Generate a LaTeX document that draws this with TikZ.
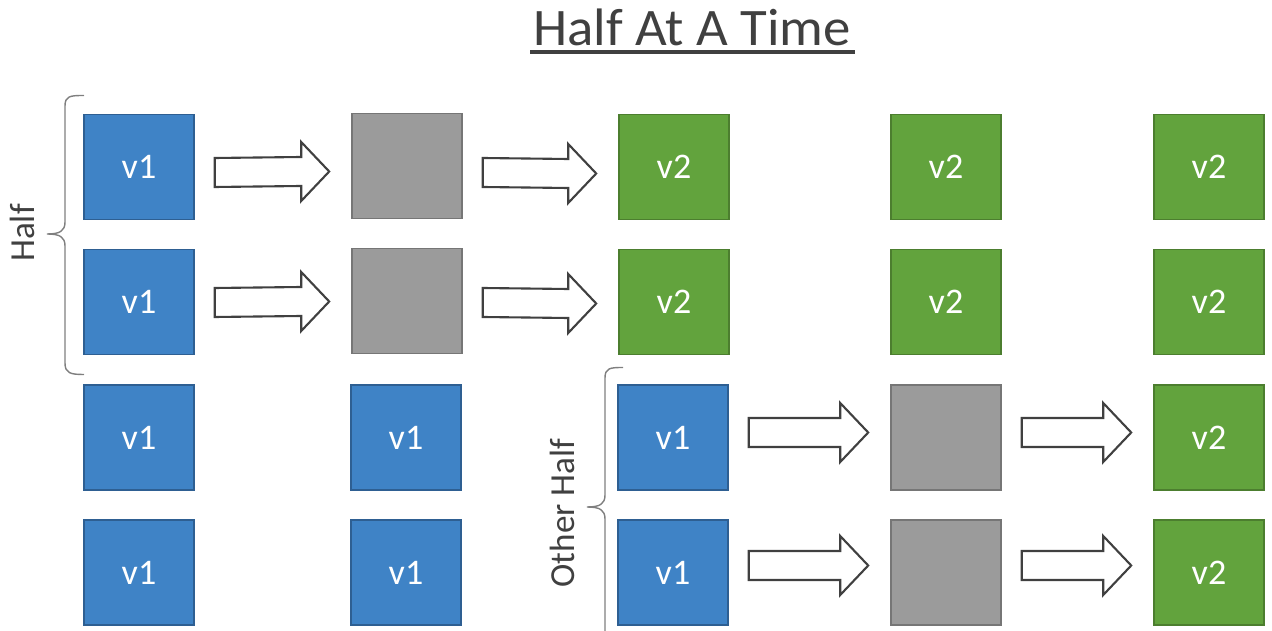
\documentclass[tikz,border=0pt]{standalone}
\usepackage{fontspec}
\setmainfont{Carlito}
\usetikzlibrary{calc}
\definecolor{bluefill}{HTML}{3F83C6}
\definecolor{blueline}{HTML}{2E5F92}
\definecolor{grayfill}{HTML}{9B9B9B}
\definecolor{grayline}{HTML}{767676}
\definecolor{greenfill}{HTML}{62A33D}
\definecolor{greenline}{HTML}{4C7E2F}
\definecolor{txt}{HTML}{404040}
\definecolor{bracecol}{HTML}{7F7F7F}
\newcommand{\barrow}[3]{%
  \coordinate (s) at ($(#1.east)+(20,#3)$);
  \coordinate (e) at ($(#2.west)+(-22,#3)$);
  \draw[blockarr] ($(s)+(0,-14.5)$) -- ($(e)+(-28,-14.5)$) -- ($(e)+(-28,-29.5)$) -- (e)
    -- ($(e)+(-28,29.5)$) -- ($(e)+(-28,14.5)$) -- ($(s)+(0,14.5)$) -- cycle;
}
\begin{document}
\begin{tikzpicture}[x=0.02cm,y=-0.02cm,
  box/.style={rectangle,minimum width=2.2cm,minimum height=2.1cm,inner sep=0pt,line width=0.9pt,text=white,font=\fontsize{20.5}{24}\selectfont},
  vone/.style={box,fill=bluefill,draw=blueline},
  gbox/.style={box,fill=grayfill,draw=grayline},
  vtwo/.style={box,fill=greenfill,draw=greenline},
  blockarr/.style={draw=txt,fill=white,line width=1.2pt,line join=miter},
  bracestyle/.style={draw=bracecol,line width=0.8pt},
  lbl/.style={text=txt,font=\fontsize{20}{24}\selectfont,rotate=90,inner sep=0pt}]
\useasboundingbox (0,0) rectangle (1272,631);
% title
\node[text=txt,font=\fontsize{30}{34}\selectfont,anchor=base,inner sep=0pt] (title) at (692,46) {\scalebox{1.04}[1]{Half At A Time}};
\draw[txt,line width=1.8pt] (530,52) -- (855,52);
% boxes
\foreach \r/\y in {1/167,2/302,3/437.5,4/572.5}{
  \node[vone] (a\r) at (139,\y) {v1};
}
\node[gbox] (b1) at (407,166) {};
\node[gbox] (b2) at (407,301) {};
\node[vone] (b3) at (406,437.5) {v1};
\node[vone] (b4) at (406,572.5) {v1};
\node[vtwo] (c1) at (674,167) {v2};
\node[vtwo] (c2) at (674,302) {v2};
\node[vone] (c3) at (673,437.5) {v1};
\node[vone] (c4) at (673,572.5) {v1};
\node[vtwo] (d1) at (946,167) {v2};
\node[vtwo] (d2) at (946,302) {v2};
\node[gbox] (d3) at (946,437.5) {};
\node[gbox] (d4) at (946,572.5) {};
\node[vtwo] (e1) at (1209,167) {v2};
\node[vtwo] (e2) at (1209,302) {v2};
\node[vtwo] (e3) at (1209,437.5) {v2};
\node[vtwo] (e4) at (1209,572.5) {v2};
% arrows
\barrow{a1}{b1}{5.5}
\barrow{b1}{c1}{6.5}
\barrow{a2}{b2}{0.5}
\barrow{b2}{c2}{1.5}
\barrow{c3}{d3}{-5}
\barrow{d3}{e3}{-5}
\barrow{c4}{d4}{-7}
\barrow{d4}{e4}{-7}
% braces
\draw[bracestyle] (84,95.5) .. controls (70,95.5) and (65,96) .. (65,106) -- (65,222)
  .. controls (65,231) and (60,234) .. (47,234) .. controls (60,234) and (65,237) .. (65,246)
  -- (65,363) .. controls (65,373) and (70,374.5) .. (84,374.5);
\begin{scope}
\clip (0,0) rectangle (1272,631);
\draw[bracestyle] (623,367.5) .. controls (610,367.5) and (605,368) .. (605,378) -- (605,495)
  .. controls (605,504) and (600,507) .. (587,507) .. controls (600,507) and (605,510) .. (605,519)
  -- (605,650);
\end{scope}
\node[lbl] (half) at (22,233) {Half};
\node[lbl] (other) at (562,513) {Other Half};
\end{tikzpicture}
\end{document}
